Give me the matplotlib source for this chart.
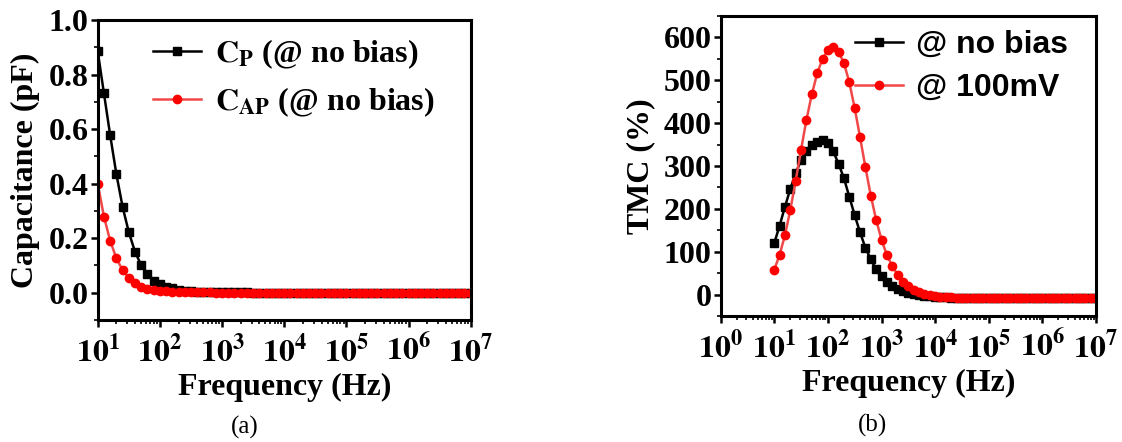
import numpy as np
import matplotlib

matplotlib.use('Agg')
import matplotlib.pyplot as plt
from matplotlib.ticker import FuncFormatter, LogLocator, MultipleLocator

plt.rcParams['font.family'] = 'Liberation Serif'
plt.rcParams['font.weight'] = 'bold'
plt.rcParams['mathtext.fontset'] = 'stix'

# frequency sweep, 10 points per decade from 10 Hz to 10 MHz
freq = np.logspace(1, 7, 61)

# capacitance (pF), zero bias
cap_p = [0.885, 0.731, 0.578, 0.435, 0.315, 0.222, 0.150, 0.101, 0.069, 0.043,
         0.031, 0.022, 0.016, 0.011, 0.008, 0.006, 0.004, 0.003, 0.002, 0.002,
         0.001, 0.001, 0.001, 0.001, 0.001, 0.000, 0.000, 0.000, 0.000, 0.000,
         0.000, 0.000, 0.000, 0.000, 0.000, 0.000, 0.000, 0.000, 0.000, 0.000,
         0.000, 0.000, 0.000, 0.000, 0.000, 0.000, 0.000, 0.000, 0.000, 0.000,
         0.000, 0.000, 0.000, 0.000, 0.000, 0.000, 0.000, 0.000, 0.000, 0.000,
         0.000]
cap_ap = [0.400, 0.279, 0.191, 0.126, 0.083, 0.055, 0.034, 0.022, 0.013, 0.009,
          0.007, 0.005, 0.004, 0.003, 0.002, 0.002, 0.001, 0.001, 0.001, 0.000,
          0.000, 0.000, 0.000, 0.000, 0.000, 0.000, 0.000, 0.000, 0.000, 0.000,
          0.000, 0.000, 0.000, 0.000, 0.000, 0.000, 0.000, 0.000, 0.000, 0.000,
          0.000, 0.000, 0.000, 0.000, 0.000, 0.000, 0.000, 0.000, 0.000, 0.000,
          0.000, 0.000, 0.000, 0.000, 0.000, 0.000, 0.000, 0.000, 0.000, 0.000,
          0.000]

# TMC (%)
tmc_nobias = [120, 161, 205, 247, 283, 314, 335, 350, 357, 360,
              354, 334, 305, 271, 228, 185, 145, 109, 82, 59,
              43, 30, 20, 13, 8, 4, 1, -1, -3, -4.5,
              -5.5, -6.2, -6.8, -7.2, -7.5, -7.7, -7.8, -7.9, -8, -8,
              -8, -8, -8, -8, -8, -8, -8, -8, -8, -8,
              -8, -8, -8, -8, -8, -8, -8, -8, -8, -8,
              -8]
tmc_100mv = [58, 93, 139, 198, 266, 338, 408, 467, 516, 550,
             570, 577, 566, 540, 495, 435, 367, 297, 231, 174,
             128, 92, 67, 46, 30, 19, 11, 5, 1, -2,
             -4, -5, -6, -6.5, -7, -7.5, -7.8, -8, -8, -8,
             -8, -8, -8, -8, -8, -8, -8, -8, -8, -8,
             -8, -8, -8, -8, -8, -8, -8, -8, -8, -8,
             -8]

RED_LINE = '#f04848'
RED = '#ff0000'
FS = 23


def style_axes(ax):
    for sp in ax.spines.values():
        sp.set_linewidth(2.2)
    ax.set_xscale('log')
    ax.xaxis.set_major_locator(LogLocator(base=10, numticks=20))
    ax.xaxis.set_minor_locator(LogLocator(base=10, subs=np.arange(2, 10), numticks=20))
    ax.xaxis.set_major_formatter(FuncFormatter(lambda v, p: r'$\mathbf{10^{%d}}$' % round(np.log10(v))))
    ax.tick_params(which='major', direction='out', length=5, width=1.8, labelsize=FS,
                   top=False, right=False)
    ax.tick_params(axis='x', which='major', pad=6)
    ax.tick_params(axis='y', which='major', pad=1.5)
    ax.tick_params(which='minor', direction='out', length=3, width=1.2,
                   top=False, right=False)


fig = plt.figure(figsize=(11.22, 4.42), dpi=100)

# (a) capacitance
ax1 = fig.add_axes([0.0871, 0.2760, 0.3324, 0.6787])
ax1.plot(freq, cap_p, '-s', color='black', lw=1.8, ms=5.5, label=r'$\mathbf{C_{P}}$ (@ no bias)')
ax1.plot(freq, cap_ap, '-o', color=RED_LINE, mfc=RED, mec=RED, lw=1.8, ms=6,
         label=r'$\mathbf{C_{AP}}$ (@ no bias)')
style_axes(ax1)
ax1.set_xlim(10, 1e7)
ax1.set_ylim(-0.1, 1.0)
ax1.yaxis.set_major_locator(MultipleLocator(0.2))
ax1.yaxis.set_minor_locator(MultipleLocator(0.1))
ax1.yaxis.set_major_formatter(FuncFormatter(lambda v, p: '%.1f' % v))
ax1.set_xlabel('Frequency (Hz)', fontsize=FS, fontweight='bold', labelpad=3)
ax1.set_ylabel('Capacitance (pF)', fontsize=FS, fontweight='bold', labelpad=6)
ax1.legend(loc='upper left', bbox_to_anchor=(0.148, 0.942), frameon=False,
           prop={'family': 'Liberation Serif', 'weight': 'bold', 'size': FS},
           handlelength=1.5, handletextpad=0.45, labelspacing=0.45,
           borderaxespad=0, borderpad=0)

# (b) TMC
ax2 = fig.add_axes([0.6423, 0.2851, 0.3345, 0.6787])
ax2.plot(freq, tmc_nobias, '-s', color='black', lw=1.8, ms=5.5, label='@ no bias')
ax2.plot(freq, tmc_100mv, '-o', color=RED_LINE, mfc=RED, mec=RED, lw=1.8, ms=6, label='@ 100mV')
style_axes(ax2)
ax2.set_xlim(1, 1e7)
ax2.set_ylim(-50, 650)
ax2.yaxis.set_major_locator(MultipleLocator(100))
ax2.yaxis.set_minor_locator(MultipleLocator(50))
ax2.set_xlabel('Frequency (Hz)', fontsize=FS, fontweight='bold', labelpad=3)
ax2.set_ylabel('TMC (%)', fontsize=FS, fontweight='bold', labelpad=6)
ax2.legend(loc='upper left', bbox_to_anchor=(0.358, 0.953), frameon=False,
           prop={'family': 'Liberation Sans', 'weight': 'bold', 'size': FS},
           handlelength=1.5, handletextpad=0.4, labelspacing=0.4,
           borderaxespad=0, borderpad=0)

fig.text(0.2184, 0.034, '(a)', ha='center', va='center', fontsize=18, fontweight='normal')
fig.text(0.778, 0.038, '(b)', ha='center', va='center', fontsize=18, fontweight='normal')

fig.savefig('out.png', dpi=100)
